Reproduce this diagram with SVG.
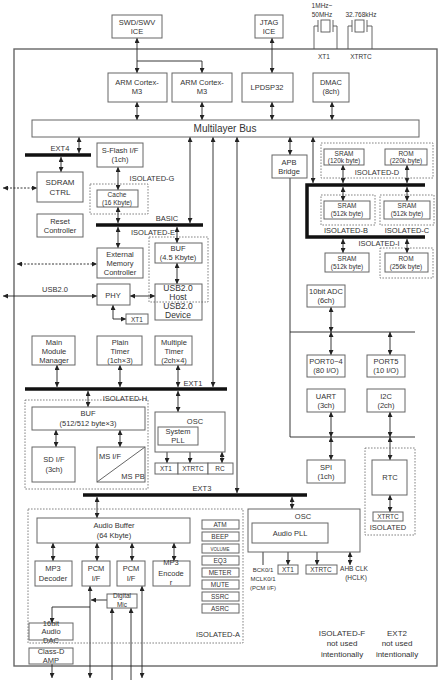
<svg xmlns="http://www.w3.org/2000/svg" width="440" height="680" viewBox="0 0 440 680">
<style>
.b{fill:#fff;stroke:#666;stroke-width:1}
.d{fill:none;stroke:#666;stroke-width:0.8;stroke-dasharray:1.6 1.4}
.t{font-family:"Liberation Sans",Arial,sans-serif;font-size:7.5px;fill:#333;text-anchor:middle}
.s{font-size:6.5px}
.l{stroke:#222;stroke-width:0.9;fill:none}
.a2{marker-start:url(#ah);marker-end:url(#ah)}
.a1{marker-end:url(#ah)}
.dl{stroke-dasharray:2 1.5}
.bar{stroke:#111;stroke-width:3.5;fill:none}
</style>
<defs>
<marker id="ah" viewBox="0 0 6 6" refX="6" refY="3" markerWidth="5" markerHeight="5" markerUnits="userSpaceOnUse" orient="auto-start-reverse"><path d="M0,0L6,3L0,6z" fill="#222"/></marker>
</defs>
<rect x="14" y="49" width="423" height="617" fill="none" stroke="#666" stroke-width="1.4"/>
<g id="crystals" fill="none" stroke="#555" stroke-width="0.9">
<path d="M314,49V26H318M318,20V32M333,20V32M333,26H337V49"/><rect x="321" y="20" width="9" height="12"/>
<path d="M348,49V26H352M352,20V32M367,20V32M367,26H372V49"/><rect x="355" y="20" width="9" height="12"/>
</g>
<g id="xtal-labels" class="t s">
<text x="322" y="8" class="t s">1MHz~</text><text x="322" y="17" class="t s">50MHz</text>
<text x="361" y="17" class="t s">32.768kHz</text>
<text x="324" y="59" class="t s">XT1</text><text x="361" y="59" class="t s">XTRTC</text>
</g>
<g id="connectors">
<path class="l a2" d="M137,38V73"/><path class="l a1" d="M137,61H202V73"/>
<path class="l a2" d="M272,38V73"/>
<path class="l a2" d="M137,102V120"/><path class="l a2" d="M202,102V120"/><path class="l a2" d="M272,102V120"/><path class="l a2" d="M332,102V120"/>
<path class="l a2" d="M79,137V153"/><path class="l a2" d="M61,157V172"/>
<path class="l a2" d="M118,167V190"/><path class="l a2" d="M118,207V223"/><path class="l a2" d="M118,227V248"/>
<path class="l a2 dl" d="M3,188H37"/><path class="l a2 dl" d="M17,264H97"/>
<path class="l a2" d="M3,296H97"/><path class="l a2" d="M130,296H155"/>
<path class="l a2" d="M113,305V319H126"/>
<path class="l a2" d="M190,137V223"/><path class="l a2" d="M213,137V387"/><path class="l a2" d="M237,137V493"/>
<path class="l a2" d="M177,227V243"/><path class="l a2" d="M177,263V284"/>
<path class="l a2" d="M290,137V155"/><path class="l a2" d="M313,137V183"/>
<path class="l" d="M290,178V437H415M290,332H415"/>
<path class="l a2" d="M343,165V183"/><path class="l a2" d="M407,165V183"/>
<path class="l a2" d="M343,187V201"/><path class="l a2" d="M407,187V201"/>
<path class="l a2" d="M343,239V253"/><path class="l a2" d="M407,239V253"/>
<path class="l a2" d="M331,307V332"/>
<path class="l a2" d="M331,332V355"/><path class="l a2" d="M390,332V355"/>
<path class="l a2" d="M331,412V437"/><path class="l a2" d="M390,412V437"/>
<path class="l a2" d="M331,437V460"/><path class="l a2" d="M390,437V460"/>
<path class="l a2" d="M390,495V512"/>
<path class="l a2" d="M57,365V387"/><path class="l a2" d="M120,365V387"/><path class="l a2" d="M178,365V387"/>
<path class="l a2" d="M88,391V407"/><path class="l a2" d="M56,430V447"/><path class="l a2" d="M120,430V447"/>
<path class="l a2" d="M178,391V412"/>
<path class="l a2" d="M167,445V463"/><path class="l a2" d="M190,445V463"/><path class="l a2" d="M222,452V463"/>
<path class="l a2" d="M97,497V518"/><path class="l a2" d="M292,497V509"/>
<path class="l a2" d="M53,543V561"/><path class="l a2" d="M97,543V561"/><path class="l a2" d="M132,543V561"/><path class="l a2" d="M174,543V561"/>
<path class="l a2" d="M90,586V678"/><path class="l a2" d="M142,586V678"/>
<path class="l a1" d="M112,680V608"/><path class="l a1" d="M131,680V608"/>
<path class="l a1" d="M107,600H91"/><path class="l a1" d="M90,607H52V623"/>
<path class="l a1" d="M52,664V678"/>
<path class="l a1" d="M263,565V543"/>
<path class="l a2" d="M288,543V565"/><path class="l a2" d="M317,543V565"/><path class="l a2" d="M350,552V565"/>
</g>
<g id="bars">
<path class="bar" d="M25,155H91"/><text x="60" y="151" class="t">EXT4</text>
<path class="bar" d="M96,225H203"/><text x="167" y="221" class="t">BASIC</text>
<path class="bar" d="M25,389H227"/><text x="193" y="386" class="t">EXT1</text>
<path class="bar" d="M83,495H307"/><text x="202" y="491" class="t">EXT3</text>
<path class="bar" d="M425,185H307V237H425"/>
</g>
<g id="swd"><rect class="b" x="112" y="15" width="50" height="23"/><text class="t" x="137" y="25">SWD/SWV</text><text class="t" x="137" y="34">ICE</text></g>
<g id="jtag"><rect class="b" x="255" y="15" width="28" height="23"/><text class="t" x="269" y="25">JTAG</text><text class="t" x="269" y="34">ICE</text></g>
<g id="arm1"><rect class="b" x="108" y="73" width="59" height="29"/><text class="t" x="137" y="85">ARM Cortex-</text><text class="t" x="137" y="94">M3</text></g>
<g id="arm2"><rect class="b" x="172" y="73" width="60" height="29"/><text class="t" x="202" y="85">ARM Cortex-</text><text class="t" x="202" y="94">M3</text></g>
<g id="lpdsp"><rect class="b" x="242" y="73" width="51" height="29"/><text class="t" x="267" y="90">LPDSP32</text></g>
<g id="dmac"><rect class="b" x="313" y="73" width="36" height="29"/><text class="t" x="331" y="85">DMAC</text><text class="t" x="331" y="94">(8ch)</text></g>
<g id="bus"><rect class="b" x="32" y="120" width="387" height="17"/><text class="t" x="225" y="132" style="font-size:10px">Multilayer Bus</text></g>
<g id="sflash"><rect class="b" x="97" y="143" width="46" height="24"/><text class="t" x="120" y="153">S-Flash I/F</text><text class="t" x="120" y="162">(1ch)</text></g>
<g id="sdram"><rect class="b" x="37" y="172" width="46" height="30"/><text class="t" x="60" y="185" style="font-size:8px">SDRAM</text><text class="t" x="60" y="195" style="font-size:8px">CTRL</text></g>
<g id="reset"><rect class="b" x="37" y="214" width="46" height="23"/><text class="t" x="60" y="224">Reset</text><text class="t" x="60" y="233">Controller</text></g>
<g id="iso-g"><rect class="d" x="90" y="184" width="58" height="30"/><text class="t" x="152" y="181">ISOLATED-G</text>
<rect class="b" x="97" y="190" width="41" height="17"/><text class="t s" x="117" y="197">Cache</text><text class="t s" x="117" y="205">(16 Kbyte)</text></g>
<g id="emc"><rect class="b" x="97" y="248" width="46" height="30"/><text class="t" x="120" y="257">External</text><text class="t" x="120" y="266">Memory</text><text class="t" x="120" y="275">Controller</text></g>
<g id="phy"><rect class="b" x="97" y="284" width="33" height="21"/><text class="t" x="113" y="298">PHY</text><text class="t" x="55" y="292">USB2.0</text></g>
<g id="xt1-phy"><rect class="b" x="126" y="314" width="22" height="10"/><text class="t s" x="137" y="322">XT1</text></g>
<g id="iso-e"><text class="t" x="153" y="235">ISOLATED-E</text>
<rect class="b" x="155" y="243" width="47" height="20"/><text class="t" x="178" y="251">BUF</text><text class="t" x="178" y="260">(4.5 Kbyte)</text>
<rect class="b" x="155" y="284" width="47" height="36"/>
<text class="t" x="178" y="291" style="font-size:8.5px">USB2.0</text><text class="t" x="178" y="300" style="font-size:8.5px">Host</text>
<text class="t" x="178" y="309" style="font-size:8.5px">USB2.0</text><text class="t" x="178" y="318" style="font-size:8.5px">Device</text>
<rect class="d" x="149" y="237" width="59" height="65"/></g>
<g id="apb"><rect class="b" x="272" y="155" width="35" height="23"/><text class="t" x="289" y="165">APB</text><text class="t" x="289" y="174">Bridge</text></g>
<g id="iso-d"><rect class="d" x="321" y="143" width="112" height="35"/>
<rect class="b" x="324" y="149" width="40" height="16"/><text class="t s" x="344" y="156">SRAM</text><text class="t s" x="344" y="163">(120k byte)</text>
<rect class="b" x="385" y="149" width="42" height="16"/><text class="t s" x="406" y="156">ROM</text><text class="t s" x="406" y="163">(220k byte)</text>
<text class="t" x="377" y="175">ISOLATED-D</text></g>
<g id="iso-b"><rect class="d" x="321" y="195" width="54" height="30"/><rect class="b" x="324" y="201" width="46" height="18"/><text class="t s" x="347" y="208">SRAM</text><text class="t s" x="347" y="216">(512k byte)</text><text class="t" x="346" y="233">ISOLATED-B</text></g>
<g id="iso-c"><rect class="d" x="380" y="195" width="54" height="30"/><rect class="b" x="384" y="201" width="46" height="18"/><text class="t s" x="407" y="208">SRAM</text><text class="t s" x="407" y="216">(512k byte)</text><text class="t" x="407" y="233">ISOLATED-C</text></g>
<g id="sram-low"><rect class="b" x="325" y="253" width="44" height="19"/><text class="t s" x="347" y="261">SRAM</text><text class="t s" x="347" y="269">(512k byte)</text></g>
<g id="iso-i"><text class="t" x="379" y="246">ISOLATED-I</text><rect class="d" x="380" y="248" width="53" height="30"/><rect class="b" x="385" y="253" width="43" height="19"/><text class="t s" x="406" y="261">ROM</text><text class="t s" x="406" y="269">(256k byte)</text></g>
<g id="adc"><rect class="b" x="307" y="285" width="38" height="22"/><text class="t" x="326" y="294">10bit ADC</text><text class="t" x="326" y="303">(6ch)</text></g>
<g id="port04"><rect class="b" x="307" y="355" width="38" height="22"/><text class="t" x="326" y="364">PORT0~4</text><text class="t" x="326" y="373">(80 I/O)</text></g>
<g id="port5"><rect class="b" x="367" y="355" width="38" height="22"/><text class="t" x="386" y="364">PORT5</text><text class="t" x="386" y="373">(10 I/O)</text></g>
<g id="uart"><rect class="b" x="307" y="389" width="38" height="23"/><text class="t" x="326" y="399">UART</text><text class="t" x="326" y="408">(3ch)</text></g>
<g id="i2c"><rect class="b" x="367" y="389" width="38" height="23"/><text class="t" x="386" y="399">I2C</text><text class="t" x="386" y="408">(2ch)</text></g>
<g id="spi"><rect class="b" x="307" y="460" width="38" height="23"/><text class="t" x="326" y="470">SPI</text><text class="t" x="326" y="479">(1ch)</text></g>
<g id="rtc"><rect class="d" x="365" y="448" width="50" height="87"/><rect class="b" x="372" y="460" width="35" height="35"/><text class="t" x="390" y="480">RTC</text>
<rect class="b" x="373" y="512" width="30" height="9"/><text class="t s" x="388" y="519">XTRTC</text><text class="t" x="388" y="530">ISOLATED</text></g>
<g id="mmm"><rect class="b" x="32" y="336" width="43" height="29"/><text class="t" x="54" y="345">Main</text><text class="t" x="54" y="354">Module</text><text class="t" x="54" y="363">Manager</text></g>
<g id="ptimer"><rect class="b" x="97" y="336" width="45" height="29"/><text class="t" x="120" y="345">Plain</text><text class="t" x="120" y="354">Timer</text><text class="t" x="120" y="363">(1ch×3)</text></g>
<g id="mtimer"><rect class="b" x="155" y="336" width="37" height="29"/><text class="t" x="174" y="345">Multiple</text><text class="t" x="174" y="354">Timer</text><text class="t" x="174" y="363">(2ch×4)</text></g>
<g id="iso-h"><rect class="d" x="25" y="400" width="123" height="89"/><text class="t" x="125" y="401">ISOLATED-H</text>
<rect class="b" x="32" y="407" width="113" height="23"/><text class="t" x="88" y="416">BUF</text><text class="t" x="88" y="426">(512/512 byte×3)</text>
<rect class="b" x="32" y="447" width="43" height="35"/><text class="t" x="54" y="462">SD I/F</text><text class="t" x="54" y="472">(3ch)</text>
<rect class="b" x="97" y="447" width="48" height="35"/><path d="M97,482L145,447" stroke="#666" stroke-width="1"/><text class="t" x="110" y="459">MS I/F</text><text class="t" x="133" y="479">MS PB</text></g>
<g id="osc1"><rect class="b" x="155" y="412" width="70" height="40"/><text class="t" x="195" y="424">OSC</text>
<rect class="b" x="158" y="427" width="40" height="18"/><text class="t" x="178" y="434">System</text><text class="t" x="178" y="443">PLL</text>
<rect class="b" x="155" y="463" width="23" height="11"/><text class="t s" x="166" y="471">XT1</text>
<rect class="b" x="178" y="463" width="30" height="11"/><text class="t s" x="193" y="471">XTRTC</text>
<rect class="b" x="208" y="463" width="25" height="11"/><text class="t s" x="220" y="471">RC</text></g>
<g id="iso-a"><rect class="d" x="28" y="509" width="215" height="134"/><text class="t" x="218" y="637">ISOLATED-A</text>
<rect class="b" x="37" y="518" width="153" height="25"/><text class="t" x="114" y="528">Audio Buffer</text><text class="t" x="114" y="538">(64 Kbyte)</text>
<rect class="b" x="35" y="561" width="37" height="25"/><text class="t" x="53" y="571">MP3</text><text class="t" x="53" y="581">Decoder</text>
<rect class="b" x="82" y="561" width="28" height="25"/><text class="t" x="96" y="571">PCM</text><text class="t" x="96" y="581">I/F</text>
<rect class="b" x="117" y="561" width="28" height="25"/><text class="t" x="131" y="571">PCM</text><text class="t" x="131" y="581">I/F</text>
<rect class="b" x="153" y="561" width="37" height="25"/><text class="t" x="171" y="565">MP3</text><text class="t" x="171" y="576">Encode</text><text class="t" x="171" y="585">r</text>
<rect class="b" x="107" y="594" width="30" height="14"/><text class="t s" x="122" y="598">Digital</text><text class="t s" x="122" y="607">Mic</text>
<rect class="b" x="29" y="623" width="44" height="17"/><text class="t" x="51" y="626">16bit</text><text class="t" x="51" y="634">Audio</text><text class="t" x="51" y="643">DAC</text></g>
<g id="effects">
<rect class="b" x="202" y="520" width="37" height="9"/><text class="t s" x="220" y="527">ATM</text>
<rect class="b" x="202" y="532" width="37" height="9"/><text class="t s" x="220" y="539">BEEP</text>
<rect class="b" x="202" y="544" width="37" height="9"/><text class="t" x="220" y="551" style="font-size:4.5px">VOLUME</text>
<rect class="b" x="202" y="556" width="37" height="9"/><text class="t s" x="220" y="563">EQ3</text>
<rect class="b" x="202" y="568" width="37" height="9"/><text class="t s" x="220" y="575">METER</text>
<rect class="b" x="202" y="580" width="37" height="9"/><text class="t s" x="220" y="587">MUTE</text>
<rect class="b" x="202" y="592" width="37" height="9"/><text class="t s" x="220" y="599">SSRC</text>
<rect class="b" x="202" y="604" width="37" height="9"/><text class="t s" x="220" y="611">ASRC</text>
</g>
<g id="classd"><rect class="b" x="29" y="648" width="44" height="16"/><text class="t" x="51" y="654">Class-D</text><text class="t" x="51" y="663">AMP</text></g>
<g id="osc2"><rect class="b" x="248" y="509" width="112" height="43"/><text class="t" x="303" y="519">OSC</text>
<rect class="b" x="252" y="523" width="76" height="20"/><text class="t" x="290" y="536">Audio PLL</text>
<rect class="b" x="278" y="565" width="20" height="9"/><text class="t s" x="288" y="572">XT1</text>
<rect class="b" x="306" y="565" width="31" height="9"/><text class="t s" x="321" y="572">XTRTC</text>
<text class="t" x="263" y="572" style="font-size:6px">BCK0/1</text><text class="t" x="263" y="581" style="font-size:6px">MCLK0/1</text><text class="t" x="263" y="590" style="font-size:6px">(PCM I/F)</text>
<text class="t s" x="354" y="571">AHB CLK</text><text class="t s" x="356" y="580">(HCLK)</text></g>
<g id="notes"><text class="t" x="342" y="636" style="font-size:8px">ISOLATED-F</text><text class="t" x="342" y="646" style="font-size:8px">not used</text><text class="t" x="342" y="657" style="font-size:8px">intentionally</text>
<text class="t" x="397" y="636" style="font-size:8px">EXT2</text><text class="t" x="397" y="646" style="font-size:8px">not used</text><text class="t" x="397" y="657" style="font-size:8px">intentionally</text></g>
</svg>
